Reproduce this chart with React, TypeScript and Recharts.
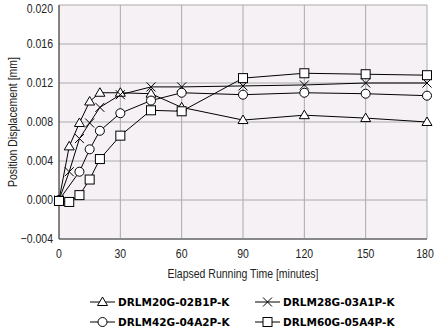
import React from 'react';
import { LineChart, Line, XAxis, YAxis, CartesianGrid, Legend } from 'recharts';

const times = [0, 5, 10, 15, 20, 30, 45, 60, 90, 120, 150, 180];
const drlm20 = [0, 0.0055, 0.0079, 0.0101, 0.011, 0.011, 0.0109, 0.0095, 0.0082, 0.0087, 0.0084, 0.008];
const drlm28 = [0, 0.0029, 0.0063, 0.0079, 0.0095, 0.0108, 0.0116, 0.0116, 0.0117, 0.0118, 0.012, 0.012];
const drlm42 = [0, null, 0.0029, 0.0052, 0.0071, 0.0089, 0.0102, 0.011, 0.0108, 0.011, 0.0109, 0.0107];
const drlm60 = [-0.0001, -0.0002, 0.0005, 0.0021, 0.0042, 0.0066, 0.0092, 0.0091, 0.0125, 0.013, 0.0129, 0.0128];

const xTicks = [0, 30, 60, 90, 120, 150, 180];
const yTicks = [-0.004, 0, 0.004, 0.008, 0.012, 0.016, 0.02];

const seriesNames = ['DRLM20G-02B1P-K', 'DRLM28G-03A1P-K', 'DRLM42G-04A2P-K', 'DRLM60G-05A4P-K'];
const seriesKeys = ['a', 'b', 'c', 'd'];
const shapes = ['triangle', 'cross', 'circle', 'square'];

const data = times.map((t, i) => ({
  t,
  a: drlm20[i],
  b: drlm28[i],
  c: drlm42[i],
  d: drlm60[i],
}));

const axisFont = "'Liberation Sans', Arial, sans-serif";
const squeeze = 0.84;

// condensed-looking text: plain sans squeezed horizontally
function NarrowText({ x, y, anchor, rotate, size, children }: any) {
  const tr = rotate
    ? `translate(${x},${y}) rotate(-90) scale(${squeeze},1)`
    : `translate(${x},${y}) scale(${squeeze},1)`;
  return (
    <text
      transform={tr}
      textAnchor={anchor}
      dominantBaseline="central"
      fontSize={size}
      fontFamily={axisFont}
      fill="#222"
    >
      {children}
    </text>
  );
}

function XTick(props: any) {
  const { x, payload } = props;
  return (
    <NarrowText x={x} y={254} anchor="middle" size={12.5}>
      {payload.value}
    </NarrowText>
  );
}

function YTick(props: any) {
  const { y, payload } = props;
  const v = payload.value as number;
  const s = v < 0 ? '\u2212' + Math.abs(v).toFixed(3) : v.toFixed(3);
  return (
    <NarrowText x={53} y={y} anchor="end" size={12.5}>
      {s}
    </NarrowText>
  );
}

function Marker({ shape, cx, cy }: { shape: string; cx: number; cy: number }) {
  const s = 4.5;
  if (shape === 'triangle') {
    return (
      <polygon
        points={`${cx},${cy - s - 0.5} ${cx - s - 0.5},${cy + s - 1} ${cx + s + 0.5},${cy + s - 1}`}
        fill="#fff"
        stroke="#000"
        strokeWidth={1}
      />
    );
  }
  if (shape === 'cross') {
    return (
      <path
        d={`M${cx - s},${cy - s}L${cx + s},${cy + s}M${cx - s},${cy + s}L${cx + s},${cy - s}`}
        stroke="#000"
        strokeWidth={1}
        fill="none"
      />
    );
  }
  if (shape === 'circle') {
    return <circle cx={cx} cy={cy} r={s} fill="#fff" stroke="#000" strokeWidth={1} />;
  }
  return <rect x={cx - s} y={cy - s} width={s * 2} height={s * 2} fill="#fff" stroke="#000" strokeWidth={1} />;
}

function makeDot(shape: string) {
  return (props: any) => {
    const { cx, cy, key, value } = props;
    if (cx == null || cy == null || value == null) return <g key={key} />;
    return (
      <g key={key}>
        <Marker shape={shape} cx={cx} cy={cy} />
      </g>
    );
  };
}

function LegendItem({ idx }: { idx: number }) {
  return (
    <div style={{ display: 'flex', alignItems: 'center', height: 20 }}>
      <svg width={27} height={14} style={{ marginRight: 2 }}>
        <line x1={1} y1={7} x2={26} y2={7} stroke="#000" strokeWidth={1} />
        <Marker shape={shapes[idx]} cx={13.5} cy={7} />
      </svg>
      <span
        style={{
          fontFamily: "'DejaVu Sans', sans-serif",
          fontWeight: 700,
          fontSize: 10.5,
          color: '#000',
        }}
      >
        {seriesNames[idx]}
      </span>
    </div>
  );
}

function renderLegend() {
  return (
    <div style={{ position: 'relative', height: 47 }}>
      <div style={{ position: 'absolute', left: 89, top: 8 }}>
        <LegendItem idx={0} />
        <LegendItem idx={2} />
      </div>
      <div style={{ position: 'absolute', left: 254, top: 8 }}>
        <LegendItem idx={1} />
        <LegendItem idx={3} />
      </div>
    </div>
  );
}

export default function App() {
  return (
    <div style={{ position: 'absolute', left: 0, top: 0, width: 437, height: 331, background: '#fff' }}>
      <LineChart width={437} height={331} data={data} margin={{ top: 5, right: 10, left: 0, bottom: 0 }}>
        <CartesianGrid stroke="#aaaaaa" strokeWidth={1} fill="#f6f1f5" />
        <XAxis
          dataKey="t"
          type="number"
          domain={[0, 180]}
          ticks={xTicks}
          axisLine={{ stroke: '#888', strokeWidth: 2 }}
          tickLine={false}
          height={45}
          tick={<XTick />}
          label={{
            content: (p: any) => (
              <NarrowText x={p.viewBox.x + p.viewBox.width / 2} y={274} anchor="middle" size={12.5}>
                Elapsed Running Time [minutes]
              </NarrowText>
            ),
          }}
        />
        <XAxis xAxisId="top" orientation="top" height={0} tick={false} tickLine={false} axisLine={{ stroke: '#333' }} />
        <YAxis
          domain={[-0.004, 0.02]}
          ticks={yTicks}
          width={59}
          axisLine={{ stroke: '#333' }}
          tickLine={false}
          tick={<YTick />}
          label={{
            content: (p: any) => (
              <NarrowText x={12.5} y={p.viewBox.y + p.viewBox.height / 2} anchor="middle" size={12.5} rotate>
                Position Displacement  [mm]
              </NarrowText>
            ),
          }}
        />
        <YAxis yAxisId="right" orientation="right" width={0} tick={false} tickLine={false} axisLine={{ stroke: '#888', strokeWidth: 2 }} />
        <Legend verticalAlign="bottom" height={47} content={renderLegend} />
        {seriesKeys.map((k, i) => (
          <Line
            key={k}
            dataKey={k}
            type="linear"
            stroke="#000"
            strokeWidth={1}
            connectNulls
            dot={makeDot(shapes[i])}
            activeDot={false}
            isAnimationActive={false}
          />
        ))}
      </LineChart>
    </div>
  );
}
